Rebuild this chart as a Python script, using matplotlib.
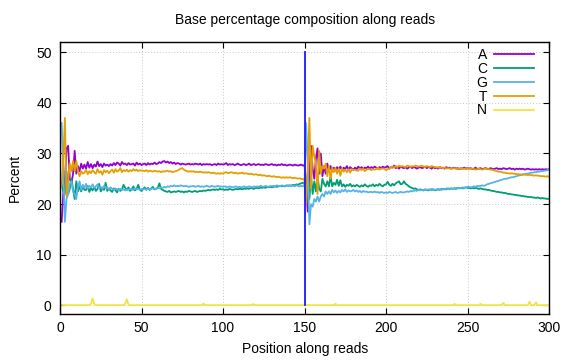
import matplotlib
matplotlib.use("Agg")   # no display

import matplotlib.pyplot as plt

plt.rcParams["font.family"] = ["Liberation Sans", "DejaVu Sans"]

# -------------------------------------------------
# DATA
# -------------------------------------------------

positions = list(range(1, 301))
read_boundary = 150
boundary_top = 50

bases = ["A", "C", "G", "T", "N"]
base_colors = ["#9400d3", "#009e73", "#56b4e9", "#e69f00", "#f0e442"]

pct_A = [
    16.5, 22.0, 24.5, 31.0, 31.5, 25.0, 24.0, 26.0, 30.5, 26.0,
    27.5, 26.5, 28.0, 27.0, 27.8, 27.0, 28.3, 27.2, 27.9, 27.1,
    27.8, 27.4, 28.4, 27.5, 27.9, 27.3, 28.0, 27.6, 27.8, 27.5,
    27.9, 27.6, 28.1, 27.7, 28.2, 28.0, 27.6, 28.3, 27.9, 28.0,
    27.7, 28.1, 27.8, 27.9, 28.0, 27.6, 28.2, 27.8, 28.0, 27.7,
    27.9, 28.0, 27.7, 28.1, 27.8, 28.0, 27.9, 28.2, 27.9, 28.0,
    28.3, 28.1, 28.4, 28.5, 28.2, 28.4, 28.1, 28.3, 28.0, 28.2,
    27.9, 28.1, 28.0, 27.8, 28.0, 27.9, 27.8, 27.9, 28.0, 27.8,
    27.9, 27.8, 28.0, 27.9, 27.8, 28.0, 27.7, 27.9, 27.8, 27.9,
    27.8, 27.9, 27.7, 27.8, 27.9, 27.7, 28.0, 27.8, 27.9, 27.8,
    27.9, 28.1, 27.7, 27.9, 27.8, 27.9, 27.7, 27.8, 28.0, 27.8,
    27.7, 27.8, 27.9, 27.7, 27.8, 28.0, 27.7, 27.8, 27.9, 27.7,
    27.8, 27.9, 27.7, 27.8, 27.7, 27.9, 27.8, 27.7, 27.8, 27.9,
    27.7, 27.8, 27.6, 27.8, 27.7, 27.9, 27.7, 27.8, 27.6, 27.7,
    27.8, 27.7, 27.6, 27.8, 27.7, 27.6, 27.7, 27.8, 27.6, 27.7,
    24.0, 18.5, 26.0, 31.5, 27.0, 25.0, 29.0, 31.0, 26.0, 30.0,
    25.5, 27.5, 26.0, 28.0, 26.5, 27.5, 26.5, 27.2, 26.6, 27.3,
    26.8, 27.4, 26.7, 27.2, 26.9, 27.5, 26.8, 27.3, 27.0, 26.8,
    27.2, 26.9, 27.4, 27.0, 27.3, 26.9, 27.2, 27.1, 27.4, 27.0,
    27.3, 27.1, 27.4, 27.2, 27.0, 27.3, 27.1, 27.4, 27.2, 27.3,
    27.5, 27.0, 27.3, 27.2, 27.6, 27.1, 27.3, 27.0, 27.4, 27.2,
    27.1, 27.3, 27.0, 27.2, 27.4, 27.1, 27.3, 27.2, 27.0, 27.2,
    27.3, 27.1, 27.2, 27.4, 27.1, 27.3, 27.2, 27.0, 27.3, 27.1,
    27.2, 27.0, 27.3, 27.1, 27.2, 27.0, 27.3, 27.1, 27.2, 27.0,
    27.1, 27.2, 27.0, 27.1, 26.9, 27.1, 27.0, 27.2, 27.0, 27.1,
    27.0, 27.1, 26.9, 27.0, 27.2, 26.9, 27.0, 27.1, 26.9, 27.0,
    27.1, 27.0, 26.9, 27.1, 27.0, 26.9, 27.0, 27.1, 26.9, 27.0,
    26.9, 27.1, 27.0, 26.9, 27.0, 27.1, 26.9, 27.0, 26.8, 27.0,
    26.9, 27.0, 26.9, 27.0, 26.8, 26.9, 27.0, 26.9, 26.8, 26.9,
    26.8, 26.9, 26.8, 26.9, 26.8, 26.9, 26.8, 26.9, 26.8, 26.9,
]

pct_C = [
    24.0, 22.5, 22.0, 26.5, 22.0, 23.0, 25.0, 23.0, 21.0, 24.5,
    22.5, 23.5, 22.5, 23.5, 22.8, 22.8, 23.6, 22.4, 23.2, 22.7,
    23.4, 22.6, 23.0, 24.0, 22.5, 23.1, 22.8, 24.2, 22.6, 23.0,
    22.7, 22.4, 23.1, 22.8, 22.3, 23.0, 22.6, 22.9, 23.8, 23.2,
    22.8, 23.3, 22.6, 22.9, 23.5, 22.7, 23.0, 23.8, 22.8, 22.6,
    23.0, 23.3, 22.9, 23.2, 22.8, 23.1, 23.4, 22.9, 23.0, 23.2,
    24.1, 23.0, 22.8, 22.6, 22.5, 22.4, 22.6, 22.3, 22.4, 22.5,
    22.4, 22.5, 22.6, 22.4, 22.5, 22.3, 22.5, 22.4, 22.6, 22.5,
    22.4, 22.5, 22.6, 22.4, 22.5, 22.6, 22.5, 22.7, 22.6, 22.7,
    22.8, 22.7, 22.8, 22.9, 22.8, 22.9, 22.8, 23.0, 22.9, 22.9,
    22.8, 22.9, 22.8, 23.0, 22.9, 22.8, 22.9, 23.0, 22.9, 23.0,
    23.0, 22.9, 23.1, 23.0, 23.1, 23.0, 23.2, 23.1, 23.0, 23.2,
    23.2, 23.1, 23.3, 23.2, 23.3, 23.2, 23.4, 23.3, 23.4, 23.3,
    23.4, 23.5, 23.4, 23.5, 23.6, 23.5, 23.6, 23.5, 23.7, 23.6,
    23.7, 23.6, 23.8, 23.7, 23.9, 23.8, 24.0, 24.1, 24.2, 24.1,
    20.0, 26.0, 21.0, 25.5, 22.0, 24.5, 22.5, 25.5, 23.0, 22.5,
    25.0, 24.0, 23.5, 24.5, 23.5, 25.5, 23.5, 24.2, 23.8, 24.8,
    23.6, 24.7, 23.5, 23.9, 23.4, 23.8, 23.6, 24.0, 23.5, 23.7,
    23.5, 23.8, 23.6, 23.4, 23.7, 23.5, 23.9, 23.6, 23.4, 23.7,
    23.6, 23.9, 23.5, 23.8, 23.6, 24.0, 23.7, 23.5, 23.8, 23.9,
    24.4, 23.8, 23.6, 24.0, 23.7, 24.1, 24.3, 24.5, 23.9, 24.0,
    24.5, 24.0, 23.8, 23.5, 23.3, 23.2, 23.0, 23.1, 22.9, 22.8,
    22.9, 22.8, 22.7, 22.9, 22.8, 22.7, 22.9, 22.8, 22.9, 22.7,
    22.8, 22.9, 22.8, 23.0, 22.9, 23.0, 22.9, 23.1, 23.0, 23.1,
    23.0, 23.1, 23.0, 23.2, 23.1, 23.2, 23.1, 23.2, 23.3, 23.2,
    23.2, 23.1, 23.2, 23.1, 23.2, 23.1, 23.0, 23.1, 23.0, 22.9,
    22.9, 22.8, 22.8, 22.7, 22.6, 22.6, 22.5, 22.4, 22.4, 22.3,
    22.3, 22.2, 22.2, 22.1, 22.0, 22.0, 21.9, 21.9, 21.8, 21.8,
    21.7, 21.7, 21.6, 21.6, 21.5, 21.5, 21.4, 21.4, 21.4, 21.3,
    21.3, 21.2, 21.3, 21.2, 21.1, 21.2, 21.1, 21.1, 21.0, 21.1,
]

pct_G = [
    36.0, 27.0, 16.5, 21.0, 22.0, 24.0, 24.5, 22.5, 22.0, 21.0,
    23.5, 24.5, 22.8, 23.8, 23.2, 24.0, 23.0, 23.6, 23.3, 23.9,
    23.2, 23.5, 23.9, 23.1, 23.4, 23.0, 23.6, 23.2, 23.3, 22.9,
    23.3, 23.0, 22.8, 23.1, 22.9, 22.7, 23.0, 22.8, 22.9, 22.7,
    22.9, 22.8, 23.0, 22.9, 22.8, 23.1, 22.9, 23.0, 22.8, 23.0,
    22.9, 23.0, 22.8, 23.1, 22.9, 23.0, 23.1, 22.9, 23.1, 23.2,
    23.1, 23.3, 23.2, 23.4, 23.3, 23.5, 23.4, 23.6, 23.5, 23.7,
    23.5, 23.6, 23.5, 23.7, 23.6, 23.5, 23.6, 23.5, 23.4, 23.5,
    23.5, 23.6, 23.4, 23.5, 23.6, 23.4, 23.5, 23.4, 23.5, 23.6,
    23.5, 23.4, 23.6, 23.5, 23.4, 23.5, 23.6, 23.4, 23.5, 23.4,
    23.5, 23.4, 23.3, 23.5, 23.4, 23.3, 23.4, 23.5, 23.3, 23.4,
    23.3, 23.4, 23.5, 23.3, 23.4, 23.5, 23.4, 23.3, 23.5, 23.4,
    23.5, 23.4, 23.6, 23.5, 23.4, 23.6, 23.5, 23.4, 23.6, 23.5,
    23.6, 23.5, 23.7, 23.6, 23.5, 23.7, 23.6, 23.5, 23.6, 23.7,
    23.6, 23.7, 23.6, 23.5, 23.7, 23.6, 23.5, 23.6, 23.5, 23.6,
    36.0, 28.0, 16.0, 20.0, 19.5, 21.0, 20.5, 21.5, 20.5, 21.5,
    22.0, 21.5, 22.5, 22.0, 22.5, 22.0, 22.8, 22.3, 22.7, 22.2,
    22.6, 22.3, 22.8, 22.5, 22.9, 22.4, 22.7, 22.5, 22.6, 22.8,
    22.5, 22.7, 22.4, 22.6, 22.3, 22.6, 22.4, 22.5, 22.3, 22.4,
    22.4, 22.3, 22.5, 22.3, 22.4, 22.2, 22.4, 22.3, 22.2, 22.3,
    22.2, 22.4, 22.3, 22.2, 22.3, 22.4, 22.2, 22.3, 22.4, 22.3,
    22.3, 22.4, 22.5, 22.4, 22.6, 22.5, 22.6, 22.7, 22.6, 22.8,
    22.7, 22.8, 22.7, 22.9, 22.8, 22.9, 22.8, 23.0, 22.9, 22.8,
    22.9, 23.0, 22.9, 22.8, 23.0, 22.9, 23.1, 23.0, 22.9, 23.1,
    23.0, 23.1, 23.2, 23.1, 23.2, 23.1, 23.3, 23.2, 23.3, 23.4,
    23.4, 23.3, 23.4, 23.5, 23.4, 23.6, 23.5, 23.6, 23.7, 23.6,
    23.7, 23.9, 24.0, 24.1, 24.2, 24.3, 24.4, 24.5, 24.6, 24.7,
    24.8, 24.9, 25.0, 25.0, 25.1, 25.2, 25.3, 25.3, 25.4, 25.5,
    25.6, 25.7, 25.7, 25.8, 25.9, 26.0, 26.0, 26.1, 26.2, 26.2,
    26.3, 26.3, 26.4, 26.4, 26.5, 26.5, 26.6, 26.6, 26.7, 26.8,
]

pct_T = [
    23.5, 28.5, 37.0, 21.5, 24.5, 28.0, 26.5, 28.5, 26.5, 28.5,
    26.5, 25.5, 26.5, 26.0, 26.2, 26.8, 25.9, 26.5, 26.1, 26.7,
    26.3, 26.0, 26.9, 26.2, 26.5, 25.8, 26.7, 26.3, 26.6, 26.1,
    26.5, 26.8, 26.2, 26.9, 26.4, 26.6, 27.1, 26.3, 26.7, 26.5,
    26.8, 26.4, 26.7, 26.5, 26.9, 26.6, 26.8, 26.5, 26.7, 26.6,
    26.6, 26.5, 26.7, 26.4, 26.6, 26.5, 26.4, 26.6, 26.5, 26.4,
    26.5, 26.3, 26.5, 26.4, 26.5, 26.6, 26.4, 26.5, 26.3, 26.4,
    26.5, 26.6, 26.8, 27.0, 27.1, 26.8, 26.6, 26.5, 26.4, 26.5,
    26.4, 26.5, 26.3, 26.4, 26.3, 26.4, 26.3, 26.2, 26.3, 26.2,
    26.3, 26.2, 26.1, 26.2, 26.1, 26.0, 26.1, 26.0, 26.1, 26.0,
    26.2, 26.3, 26.1, 26.2, 26.3, 26.2, 26.1, 26.2, 26.0, 26.1,
    26.1, 26.2, 26.0, 26.1, 26.0, 25.9, 26.0, 25.9, 25.8, 25.9,
    25.8, 25.7, 25.8, 25.6, 25.7, 25.6, 25.5, 25.6, 25.5, 25.4,
    25.5, 25.4, 25.3, 25.4, 25.3, 25.2, 25.3, 25.2, 25.3, 25.2,
    25.3, 25.2, 25.1, 25.2, 25.1, 25.0, 25.1, 25.0, 24.9, 25.0,
    20.0, 27.5, 37.0, 23.0, 31.5, 29.5, 28.0, 22.0, 30.5, 26.0,
    27.5, 27.0, 28.0, 25.5, 27.5, 25.0, 27.2, 26.3, 27.1, 26.0,
    27.0, 25.6, 27.0, 26.4, 26.8, 26.3, 26.9, 26.2, 26.9, 26.7,
    26.8, 26.6, 26.6, 27.0, 26.7, 27.0, 26.5, 26.8, 26.9, 26.9,
    26.7, 26.9, 26.8, 26.9, 27.2, 26.8, 27.0, 27.0, 27.0, 26.7,
    26.9, 27.0, 27.3, 27.4, 27.2, 27.5, 27.3, 27.6, 27.4, 27.5,
    27.4, 27.3, 27.6, 27.5, 27.3, 27.5, 27.4, 27.6, 27.5, 27.4,
    27.5, 27.6, 27.4, 27.3, 27.5, 27.4, 27.3, 27.5, 27.4, 27.3,
    27.3, 27.2, 27.3, 27.2, 27.1, 27.2, 27.0, 27.1, 27.0, 27.1,
    27.0, 27.1, 27.0, 26.9, 27.0, 27.1, 26.9, 27.0, 26.9, 27.0,
    26.9, 27.0, 27.0, 26.9, 26.8, 26.9, 27.0, 26.9, 26.8, 26.9,
    27.0, 26.9, 26.9, 26.8, 26.8, 26.7, 26.6, 26.5, 26.4, 26.4,
    26.3, 26.2, 26.2, 26.1, 26.1, 26.0, 26.1, 26.0, 26.0, 25.9,
    25.9, 25.9, 25.8, 25.9, 25.8, 25.8, 25.7, 25.8, 25.7, 25.7,
    25.6, 25.7, 25.6, 25.6, 25.5, 25.5, 25.5, 25.4, 25.5, 25.4,
]

pct_N = [
    0.1, .05, .05, .05, .05, .05, .05, .05, .05, .05,
    .05, .05, .05, .05, .05, .05, .05, .05, 0.3, 1.4,
    0.3, .05, .05, .05, .05, .05, .05, .05, .05, .05,
    .05, .05, .05, .05, .05, .05, .05, .05, .05, 0.3,
    1.2, 0.2, .05, .05, .05, .05, .05, .05, .05, .05,
    .05, .05, .05, .05, .05, .05, .05, .05, .05, .05,
    .05, .05, .05, .05, .05, .05, .05, .05, .05, .05,
    .05, .05, .05, .05, .05, .05, .05, .05, .05, .05,
    .05, .05, .05, .05, .05, .05, .05, .35, .05, .05,
    .05, .05, .05, .05, .05, .05, .05, .05, .05, .05,
    .05, .05, .05, .05, .05, .05, .05, .05, .05, .05,
    .05, .05, .05, .05, .05, .05, .05, 0.2, 0.2, .05,
    .05, .05, .05, .05, .05, .05, .05, .05, .05, .05,
    .05, .05, .05, .05, .05, .05, .05, .05, .05, .05,
    .05, .05, .05, .05, .05, .05, .05, .05, .05, .05,
    .05, .05, .05, .05, .05, .05, .05, .05, .05, .05,
    .05, .05, .05, .05, .05, .05, .05, .05, 0.3, .05,
    .05, .05, .05, .05, .05, .05, .05, .05, .05, .05,
    .05, .05, .05, .05, .05, .05, .05, .05, .05, .05,
    .05, .05, .05, .05, .05, .05, .05, .05, .05, .05,
    .05, .05, .05, .05, .05, .05, .05, .05, .05, .05,
    .05, .05, .05, .05, .05, .05, .05, .05, .05, .05,
    .05, .05, .05, .05, .05, .05, .05, .05, .05, .05,
    .05, .05, .05, .05, .05, .05, .05, .05, .05, .05,
    .05, 0.3, .05, .05, .05, .05, .05, .05, .05, .05,
    .05, .05, .05, .05, .05, .05, .05, 0.3, .05, .05,
    .05, .05, .05, .05, .05, .05, .05, .05, .05, .05,
    .05, 0.5, .05, .05, .05, .05, .05, .05, .05, .05,
    .05, .05, .05, .05, .05, .05, .05, 0.7, .05, .05,
    .05, 0.6, .05, .05, .05, .05, .05, .05, .05, .05,
]

series = [pct_A, pct_C, pct_G, pct_T, pct_N]


# -------------------------------------------------
# PLOT
# -------------------------------------------------

W, H = 576, 360
fig = plt.figure(figsize=(W / 100, H / 100), dpi=100)
ax = fig.add_axes([60 / W, 1 - 314 / H, (549 - 60) / W, (314 - 42) / H])

for label, values, color in zip(bases, series, base_colors):
    ax.plot(positions, values, color=color, linewidth=1.3, label=label)

# read 1 / read 2 boundary
ax.plot([read_boundary, read_boundary], [0, boundary_top],
        color="#1a1aff", linewidth=1.3, zorder=5)

ax.set_xlim(0, 300)
ax.set_ylim(-1.7, 52)
ax.set_xticks(range(0, 301, 50))
ax.set_yticks(range(0, 51, 10))

ax.grid(True, color="#c8c8c8", linestyle=(0, (1, 2)), linewidth=0.7)
ax.tick_params(direction="in", top=True, right=True, length=4,
               width=0.8, labelsize=10)
ax.tick_params(axis="x", pad=5)
ax.tick_params(axis="y", pad=6)
for s in ax.spines.values():
    s.set_linewidth(1.0)

fig.text(305 / W, 1 - 20 / H, "Base percentage composition along reads",
         ha="center", va="center", fontsize=10)
fig.text(305 / W, 1 - 349 / H, "Position along reads",
         ha="center", va="center", fontsize=10)
fig.text(15 / W, 1 - 178 / H, "Percent", rotation=90,
         ha="center", va="center", fontsize=10)

ax.legend(loc="upper right", bbox_to_anchor=(534 / W, 1 - 48 / H),
          bbox_transform=fig.transFigure, frameon=False, markerfirst=False,
          fontsize=10, handlelength=2.9, handletextpad=0.5,
          labelspacing=-0.01, borderpad=0, borderaxespad=0)

fig.savefig("out.png", dpi=100)
plt.close(fig)
